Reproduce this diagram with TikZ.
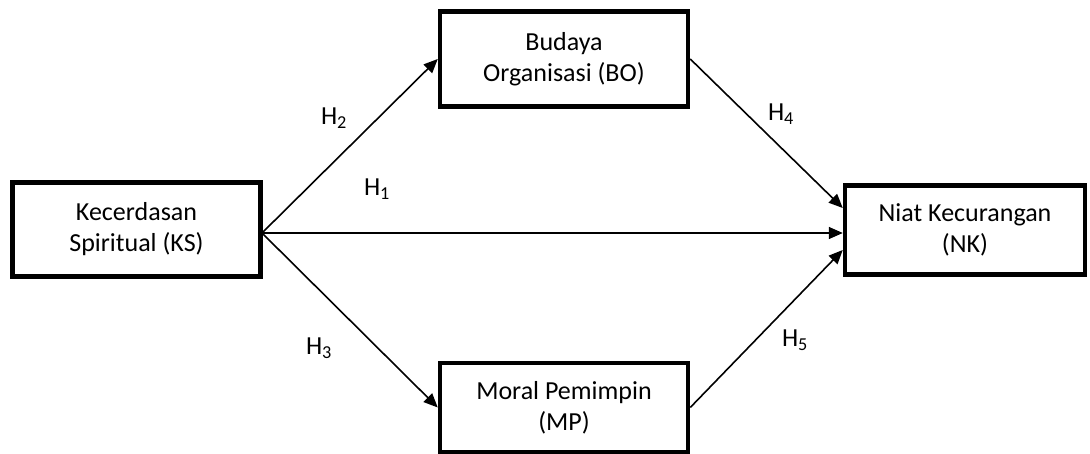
\documentclass[tikz,border=0pt]{standalone}
\usepackage{fontspec}
\setmainfont{Carlito}
\usetikzlibrary{arrows.meta}
\begin{document}
\begin{tikzpicture}[x=1pt,y=-1pt,
  box/.style={draw,line width=4.5pt,minimum width=248pt,align=center,font=\fontsize{26}{31}\selectfont,inner sep=0pt},
  conn/.style={line width=1.6pt,-{Triangle[length=14pt,width=12pt]}},
  hlab/.style={font=\fontsize{26}{28}\selectfont}]
\useasboundingbox (0,0) rectangle (1090,454);
\node[box,minimum height=94pt] (KS) at (136.5,229.5) {Kecerdasan\\Spiritual (KS)};
\node[box,minimum height=95pt] (BO) at (564,59) {Budaya\\Organisasi (BO)};
\node[box,minimum height=89pt] (MP) at (564,407.5) {Moral Pemimpin\\(MP)};
\node[box,minimum height=89pt,minimum width=240pt] (NK) at (965,230) {Niat Kecurangan\\(NK)};
\coordinate (ksr) at (262,233);
\draw[conn] (ksr) -- (BO.west);
\draw[conn] (ksr) -- (NK.west |- ksr);
\draw[conn] (ksr) -- (MP.west);
\draw[conn] (BO.east) -- ([yshift=22pt]NK.west);
\draw[conn] (MP.east) -- ([yshift=-20pt]NK.west);
\node[hlab] (h2) at (334,118) {H\textsubscript{2}};
\node[hlab] (h1) at (377,189) {H\textsubscript{1}};
\node[hlab] (h3) at (319,348) {H\textsubscript{3}};
\node[hlab] (h4) at (781,114) {H\textsubscript{4}};
\node[hlab] (h5) at (795,340) {H\textsubscript{5}};
\end{tikzpicture}
\end{document}
